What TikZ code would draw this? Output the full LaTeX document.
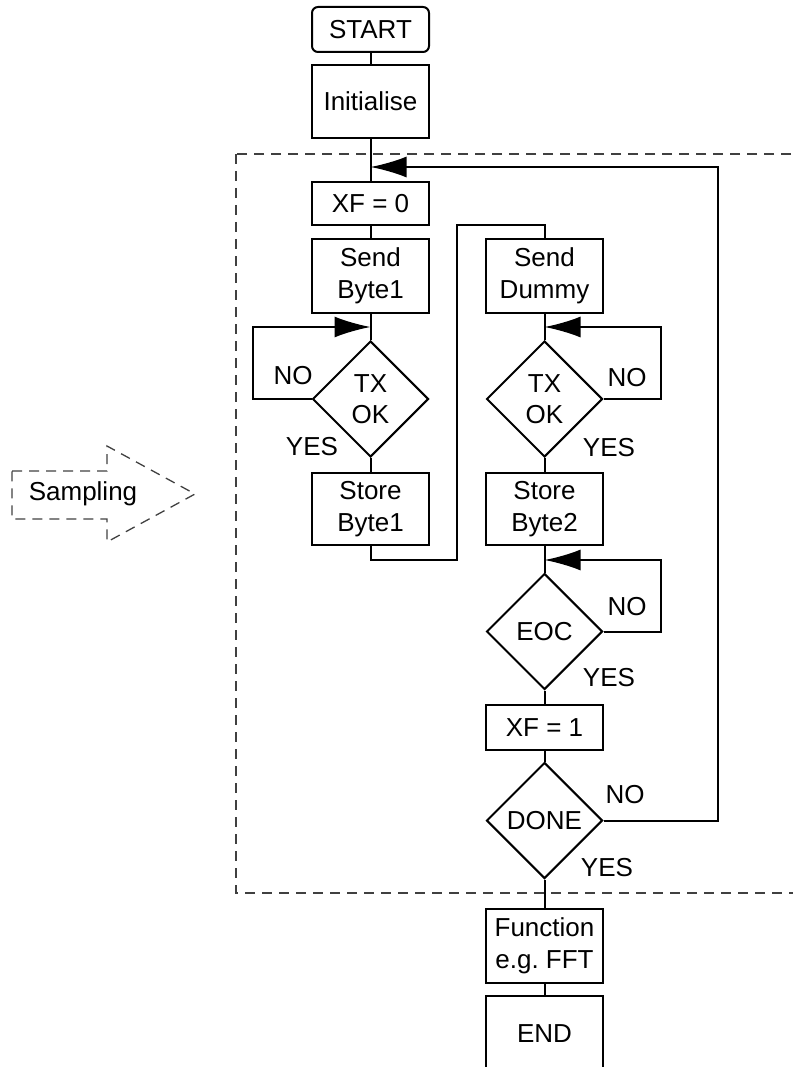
\documentclass[tikz,border=0pt]{standalone}
\usepackage{fontspec}
\setmainfont{Liberation Sans}
\usetikzlibrary{shapes.geometric,arrows.meta}

\tikzset{
    box/.style={draw, line width=2pt, minimum width=117pt, inner sep=0pt, align=center,
        font=\fontsize{26}{31.5}\selectfont},
    decision/.style={draw, diamond, line width=2pt, minimum width=116pt, minimum height=116pt,
        inner sep=0pt, align=center, font=\fontsize{26}{31.5}\selectfont},
    lbl/.style={inner sep=0pt, font=\fontsize{26}{31.5}\selectfont},
    flow/.style={line width=2pt},
    back/.style={line width=2pt, -{Latex[length=36pt,width=21pt]}},
    frame/.style={line width=1.3pt, black!75, dash pattern=on 10pt off 7pt}
}

\begin{document}
\begin{tikzpicture}[x=1pt,y=-1pt]
            \useasboundingbox (0,0) rectangle (792,1067);

            % Rahmen der Abtastschleife
            \draw[frame] (236,154) rectangle (820,893);

            % Sampling-Pfeil
            \draw[frame] (12,471) -- (107,471) -- (107,446) -- (195,494)
                -- (107,542) -- (107,519) -- (12,519) -- cycle;
            \node[lbl] (sampling) at (83,494) {Sampling};

            % linke Spalte
            \node[box, rounded corners=6pt, minimum height=45pt] (start) at (370.5,29.5) {START};
            \node[box, minimum height=73pt] (init) at (370.5,101.5) {Initialise};
            \node[box, minimum height=43pt] (xf0) at (370.5,203.5) {XF = 0};
            \node[box, minimum height=74pt] (sendb1) at (370.5,276) {Send\\Byte1};
            \node[decision] (txok1) at (370.5,399) {TX\\OK};
            \node[box, minimum height=72pt] (storeb1) at (370.5,509) {Store\\Byte1};

            % rechte Spalte
            \node[box, minimum height=74pt] (senddummy) at (544.5,276) {Send\\Dummy};
            \node[decision] (txok2) at (544.5,399) {TX\\OK};
            \node[box, minimum height=72pt] (storeb2) at (544.5,509) {Store\\Byte2};
            \node[decision] (eoc) at (544.5,631.5) {EOC};
            \node[box, minimum height=45pt] (xf1) at (544.5,727.5) {XF = 1};
            \node[decision] (done) at (544.5,820.5) {DONE};
            \node[box, minimum height=74pt] (func) at (544.5,946) {Function\\e.g.\ FFT};
            \node[box, minimum height=76pt] (end) at (544.5,1034) {END};

            % Beschriftungen
            \node[lbl] (no1) at (293,376) {NO};
            \node[lbl] (yes1) at (312,447) {YES};
            \node[lbl] (no2) at (627,378) {NO};
            \node[lbl] (yes2) at (609,448) {YES};
            \node[lbl] (no3) at (627,607) {NO};
            \node[lbl] (yes3) at (609,678) {YES};
            \node[lbl] (no4) at (625,795) {NO};
            \node[lbl] (yes4) at (607,868) {YES};

            % Einmuendungen der Ruecklaeufe
            \coordinate (j0) at (370.5,167);
            \coordinate (j1) at (370.5,327);
            \coordinate (j2) at (544.5,327);
            \coordinate (j3) at (544.5,560);
            \coordinate (hop) at (457,560);

            % Hauptfluss
            \draw[flow] (start) -- (init);
            \draw[flow] (init) -- (xf0);
            \draw[flow] (xf0) -- (sendb1);
            \draw[flow] (sendb1) -- (txok1);
            \draw[flow] (txok1) -- (storeb1);
            \draw[flow] (storeb1.south) |- (hop) -- (457,225) -| (senddummy.north);
            \draw[flow] (senddummy) -- (txok2);
            \draw[flow] (txok2) -- (storeb2);
            \draw[flow] (storeb2) -- (eoc);
            \draw[flow] (eoc) -- (xf1);
            \draw[flow] (xf1) -- (done);
            \draw[flow] (done) -- (func);
            \draw[flow] (func) -- (end);

            % Warteschleifen (NO)
            \draw[back] (txok1.west) -- (253,399) |- (j1);
            \draw[back] (txok2.east) -- (661,399) |- (j2);
            \draw[back] (eoc.east) -- (661,631.5) |- (j3);
            \draw[back] (done.east) -- (718,820.5) |- (j0);
\end{tikzpicture}
\end{document}
